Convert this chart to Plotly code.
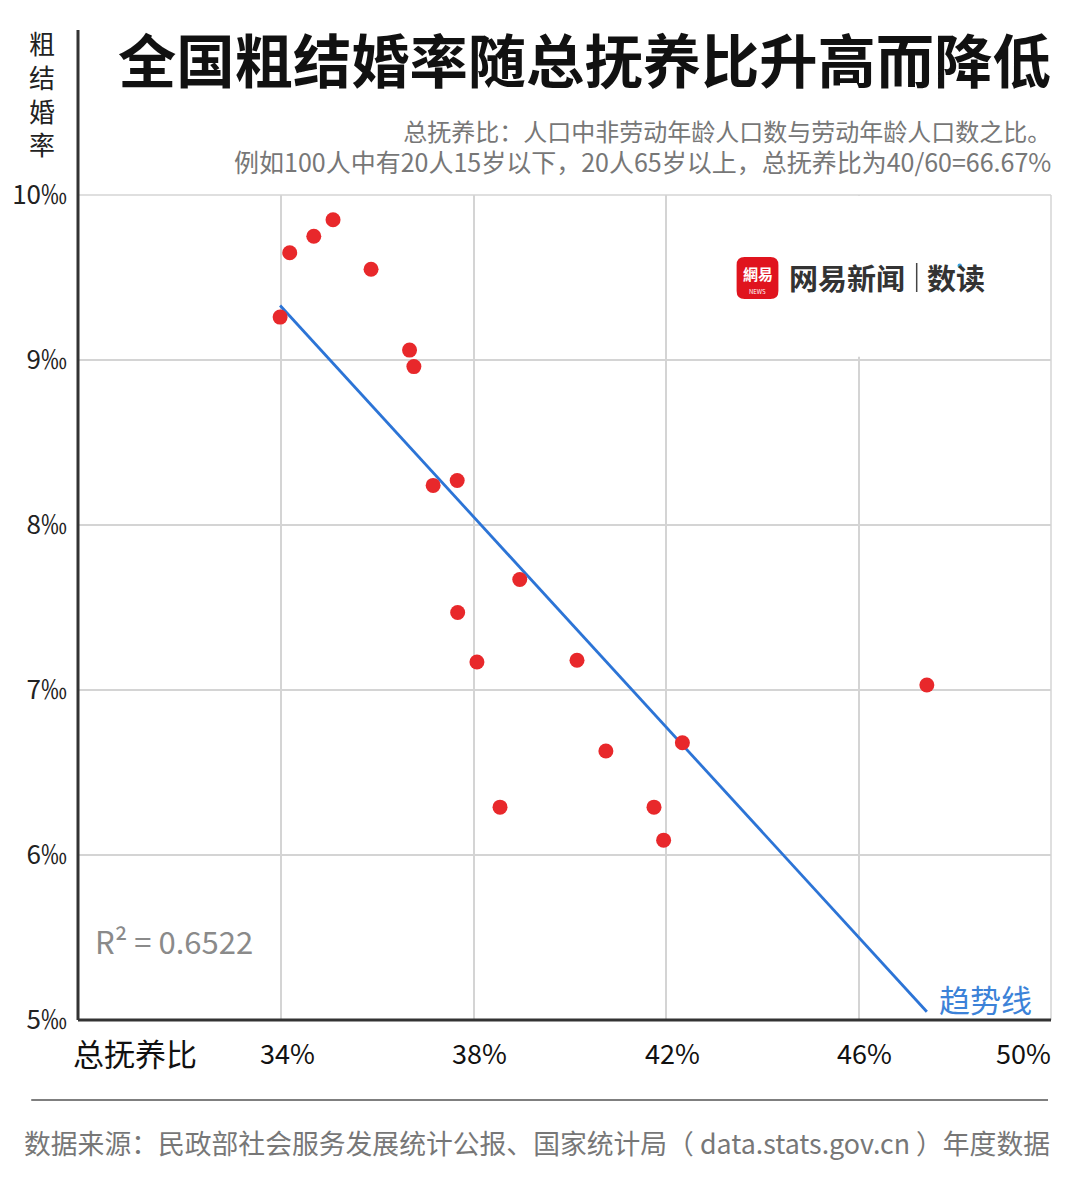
import plotly.graph_objects as go

# 总抚养比 (%) 与 粗结婚率 (‰)
dependency_ratio = [33.98, 34.18, 34.68, 35.08, 35.87, 36.67, 36.76, 37.16, 37.66, 38.96,
                    37.67, 38.07, 40.15, 40.75, 38.55, 41.75, 41.95, 42.34, 47.42]
marriage_rate = [9.26, 9.65, 9.75, 9.85, 9.55, 9.06, 8.96, 8.24, 8.27, 7.67,
                 7.47, 7.17, 7.18, 6.63, 6.29, 6.29, 6.09, 6.68, 7.03]

# 趋势线两端
trend_x = [33.98, 47.42]
trend_y = [9.33, 5.05]
r_squared = 0.6522

x_ticks = [34, 38, 42, 46, 50]
x_tick_labels = ["34%", "38%", "42%", "46%", "50%"]
y_ticks = [5, 6, 7, 8, 9, 10]
y_tick_labels = ["5‰", "6‰", "7‰", "8‰", "9‰", "10‰"]

W, H = 1080, 1188
L, R, T, B = 73, 29, 195, 168
FONT = "Noto Sans CJK SC"
GRID = "#d4d4d4"


def px(x):
    return (x - L) / (W - L - R)


def py(y):
    return (H - B - y) / (H - T - B)


fig = go.Figure()
fig.add_trace(go.Scatter(
    x=trend_x, y=trend_y, mode="lines",
    line=dict(color="#2c74d6", width=2.8), hoverinfo="skip",
))
fig.add_trace(go.Scatter(
    x=dependency_ratio, y=marriage_rate, mode="markers",
    marker=dict(color="#e8282b", size=15, line=dict(width=0)),
))

shapes = [
    # logo 后面的白底，遮住 46% 网格线上段
    dict(type="rect", xref="x", yref="y", x0=45.8, x1=46.2, y0=9.02, y1=9.995,
         fillcolor="white", line=dict(width=0), layer="between"),
    # 上边框和右边框（10‰、50% 网格线）
    dict(type="line", xref="paper", yref="paper", x0=0, x1=1, y0=1, y1=1,
         line=dict(color=GRID, width=1.5), layer="above"),
    dict(type="line", xref="paper", yref="paper", x0=1, x1=1, y0=0, y1=1,
         line=dict(color=GRID, width=1.5), layer="above"),
    # 左轴线，向上延伸到标题旁
    dict(type="line", xref="paper", yref="paper", x0=0, x1=0, y0=0, y1=py(30),
         line=dict(color="#333333", width=3)),
    dict(type="line", xref="paper", yref="paper", x0=0, x1=1, y0=0, y1=0,
         line=dict(color="#333333", width=3)),
    # 底部分隔线
    dict(type="line", xref="paper", yref="paper", x0=px(26), x1=px(1048),
         y0=py(1100), y1=py(1100), line=dict(color="#555555", width=1.5)),
    # logo 分隔竖线和小蓝点
    dict(type="line", xref="paper", yref="paper", x0=px(916), x1=px(916),
         y0=py(263), y1=py(292), line=dict(color="#444444", width=1.5)),
    dict(type="circle", xref="paper", yref="paper", x0=px(957), x1=px(961.5),
         y0=py(268), y1=py(263.5), fillcolor="#3aa0e0", line=dict(width=0)),
]

# 红色圆角 logo 方块
x0, x1, y0, y1, r = 735, 777, 257, 299, 8
pts = [(x0 + r, y0), (x1 - r, y0), (x1, y0), (x1, y0 + r), (x1, y1 - r), (x1, y1),
       (x1 - r, y1), (x0 + r, y1), (x0, y1), (x0, y1 - r), (x0, y0 + r), (x0, y0), (x0 + r, y0)]
p = [f"{px(a):.5f},{py(b):.5f}" for a, b in pts]
path = (f"M {p[0]} L {p[1]} Q {p[2]} {p[3]} L {p[4]} Q {p[5]} {p[6]} "
        f"L {p[7]} Q {p[8]} {p[9]} L {p[10]} Q {p[11]} {p[12]} Z")
shapes.append(dict(type="path", xref="paper", yref="paper", path=path,
                   fillcolor="#e0141e", line=dict(width=0)))


def note(text, x, y, size, color, xanchor="left", bold=False, **kw):
    return dict(text=text, xref="paper", yref="paper", x=px(x), y=py(y),
                xanchor=xanchor, yanchor="middle", showarrow=False,
                font=dict(family=FONT, size=size, color=color,
                          weight="bold" if bold else "normal"), **kw)


subtitle = ("总抚养比：人口中非劳动年龄人口数与劳动年龄人口数之比。<br>"
            "<span style='font-size:25px'>例如100人中有20人15岁以下，20人65岁以上，"
            "总抚养比为40/60=66.67%</span>")

annotations = [
    note("全国粗结婚率随总抚养比升高而降低", 1053, 57, 58.3, "#111111", "right", True),
    note(subtitle, 1053, 146, 24, "#777777", "right", align="right"),
    note("粗<br>结<br>婚<br>率", 37, 93, 26, "#222222", "center"),
    note("总抚养比", 130, 1052, 31, "#111111", "center"),
    note(f"R² = {r_squared}", 88, 940, 31, "#8a8a8a"),
    note("趋势线", 936, 998, 31, "#3c82d8"),
    note("网易新闻", 786, 277, 29, "#333333", bold=True),
    note("数读", 924, 277, 29, "#333333", bold=True),
    note("網易", 756, 273, 15, "white", "center", True),
    note("NEWS", 756, 291, 6, "white", "center"),
    note("数据来源：民政部社会服务发展统计公报、国家统计局（ data.stats.gov.cn ）年度数据",
         17, 1142, 26.8, "#777777"),
]

for i, (v, lab) in enumerate(zip(x_ticks, x_tick_labels)):
    last = i == len(x_ticks) - 1
    annotations.append(dict(text=lab, xref="x", yref="paper", x=v, y=py(1052),
                            xanchor="right" if last else "center", yanchor="middle",
                            xshift=2 if last else 6, showarrow=False,
                            font=dict(family=FONT, size=27, color="#111111")))

fig.update_layout(
    width=W, height=H,
    margin=dict(l=L, r=R, t=T, b=B),
    paper_bgcolor="white", plot_bgcolor="white",
    showlegend=False,
    font=dict(family=FONT),
    shapes=shapes,
    annotations=annotations,
    xaxis=dict(range=[29.78, 50], tickvals=x_ticks, showticklabels=False,
               showgrid=True, gridcolor=GRID, gridwidth=1.5,
               zeroline=False, showline=False, fixedrange=True),
    yaxis=dict(range=[5, 10], tickvals=y_ticks, ticktext=y_tick_labels,
               showgrid=True, gridcolor=GRID, gridwidth=1.5,
               zeroline=False, showline=False, ticks="", ticklabelstandoff=10,
               tickfont=dict(family=FONT, size=26, color="#222222"), fixedrange=True),
)

fig.write_html("out.html", config={"displayModeBar": False},
               post_script="document.body.style.margin='0';")
